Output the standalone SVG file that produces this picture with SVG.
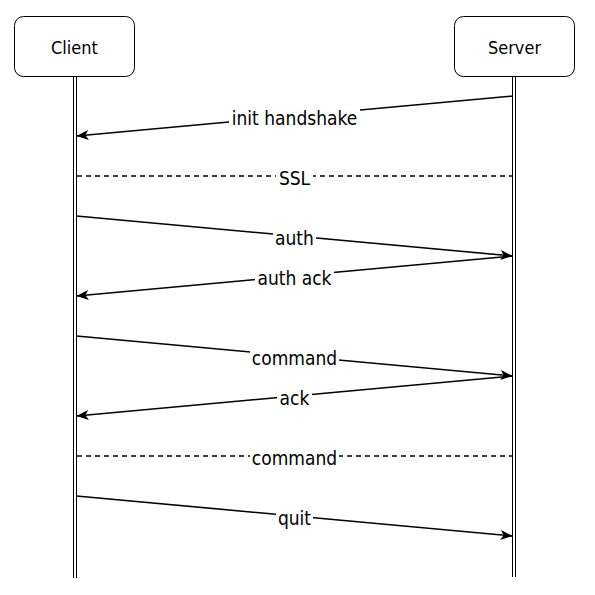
<svg xmlns="http://www.w3.org/2000/svg" width="595" height="595" viewBox="0 0 595 595">
<defs>
<style>
.box{fill:#fff;stroke:#000;stroke-width:1}
.life{stroke:#000;stroke-width:1;fill:none}
.msg{stroke:#000;stroke-width:1.6;fill:none}
.dash{stroke:#000;stroke-width:1.5;fill:none;stroke-dasharray:5 4}
.t{font-family:"DejaVu Sans Condensed","DejaVu Sans",sans-serif;font-stretch:condensed;font-size:18px;fill:#000;text-anchor:middle}
.l{font-size:19px}
.bg{fill:#fff}
</style>
<marker id="arr" markerUnits="userSpaceOnUse" markerWidth="14" markerHeight="12" refX="12" refY="5" orient="auto" viewBox="0 0 14 10">
<path d="M0,0 L12,5 L0,10 L3,5 Z" fill="#000"/>
</marker>
</defs>
<rect width="595" height="595" fill="#fff"/>
<g id="client">
<rect class="box" x="14.5" y="16.5" width="120" height="60" rx="9"/>
<line class="life" x1="73.5" y1="76.5" x2="73.5" y2="578"/>
<line class="life" x1="76.5" y1="76.5" x2="76.5" y2="578"/>
<text class="t" x="74.5" y="54">Client</text>
</g>
<g id="server">
<rect class="box" x="454.5" y="16.5" width="120" height="60" rx="9"/>
<line class="life" x1="512.5" y1="76.5" x2="512.5" y2="577"/>
<line class="life" x1="515.5" y1="76.5" x2="515.5" y2="577"/>
<text class="t" x="514.5" y="54">Server</text>
</g>
<g id="connectors">
<path class="msg" d="M513,96 L76.5,136" marker-end="url(#arr)"/>
<path class="dash" d="M77,176 L512,176"/>
<path class="msg" d="M76.5,216 L512.5,256" marker-end="url(#arr)"/>
<path class="msg" d="M513,256 L76.5,296" marker-end="url(#arr)"/>
<path class="msg" d="M76.5,336 L512.5,376" marker-end="url(#arr)"/>
<path class="msg" d="M513,376 L76.5,416" marker-end="url(#arr)"/>
<path class="dash" d="M77,456 L512,456"/>
<path class="msg" d="M76.5,496 L512.5,536" marker-end="url(#arr)"/>
</g>
<g id="labels">
<rect class="bg" x="229" y="107" width="131" height="20"/>
<text class="t l" x="294.5" y="125">init handshake</text>
<rect class="bg" x="276" y="167" width="37" height="20"/>
<text class="t l" x="294.5" y="185">SSL</text>
<rect class="bg" x="273" y="227" width="43" height="20"/>
<text class="t l" x="294.5" y="245">auth</text>
<rect class="bg" x="255" y="267" width="79" height="20"/>
<text class="t l" x="294.5" y="285">auth ack</text>
<rect class="bg" x="250" y="347" width="89" height="20"/>
<text class="t l" x="294.5" y="365">command</text>
<rect class="bg" x="277" y="387" width="35" height="20"/>
<text class="t l" x="294.5" y="405">ack</text>
<rect class="bg" x="250" y="447" width="89" height="20"/>
<text class="t l" x="294.5" y="465">command</text>
<rect class="bg" x="276" y="507" width="37" height="20"/>
<text class="t l" x="294.5" y="525">quit</text>
</g>
</svg>
